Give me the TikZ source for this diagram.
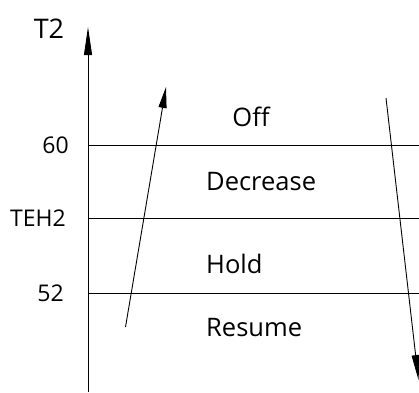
\documentclass[tikz,border=0pt]{standalone}
\usepackage{fontspec}
\setmainfont{Open Sans}
\usetikzlibrary{arrows.meta}
\begin{document}
\begin{tikzpicture}[x=1pt,y=-1pt,
  lbl/.style={inner sep=0pt,font=\fontsize{23}{25}\selectfont},
  big/.style={inner sep=0pt,font=\fontsize{25.5}{27}\selectfont},
  line/.style={line width=0.9pt},
  arr/.style={line width=0.9pt}]
\useasboundingbox (0,0) rectangle (419,392);
% axis
\coordinate (a0) at (88,392);
\coordinate (a1) at (88,27);
\draw[line,-{Triangle[length=28pt,width=8pt]}] (a0) -- (a1);
\node[big,font=\fontsize{27}{29}\selectfont] (t2) at (49,29) {T2};
% levels
\coordinate (l60) at (88,145);   \coordinate (r60) at (419,145);
\coordinate (lte) at (88,218);   \coordinate (rte) at (419,218);
\coordinate (l52) at (88,293);   \coordinate (r52) at (419,293);
\draw[line] (l60) -- (r60);
\draw[line] (lte) -- (rte);
\draw[line] (l52) -- (r52);
\node[lbl,anchor=east] (n60) at (69,145) {60};
\node[lbl,anchor=east] (nte) at (66,218) {TEH2};
\node[lbl,anchor=east] (n52) at (64,293) {52};
% region labels
\node[big] (off) at (251,117) {Off};
\node[big,anchor=west] (dec) at (206,182) {Decrease};
\node[big,anchor=west] (hold) at (206,264) {Hold};
\node[big,anchor=west] (res) at (206,328) {Resume};
% trend arrows
\coordinate (u0) at (125.5,327);
\coordinate (u1) at (166,87);
\draw[arr,-{Triangle[length=21pt,width=8pt]}] (u0) -- (u1);
\coordinate (d0) at (386,98);
\coordinate (d1) at (418.5,380);
\draw[arr,-{Triangle[length=25pt,width=8pt]}] (d0) -- (d1);
\end{tikzpicture}
\end{document}
